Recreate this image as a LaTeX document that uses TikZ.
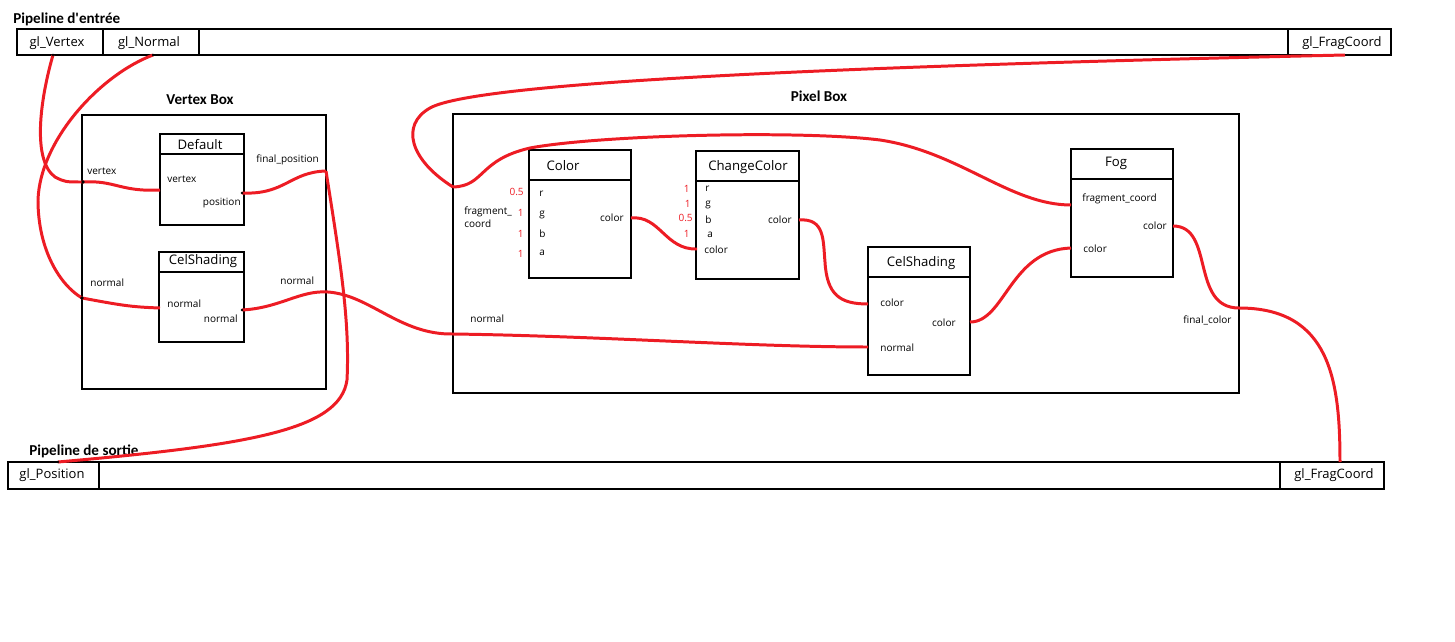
\documentclass[tikz,border=0pt]{standalone}
\usepackage{fontspec}
\setmainfont{Open Sans}
\newfontfamily\titlefont{Carlito}
\usetikzlibrary{fit}
\definecolor{wirered}{RGB}{237,28,36}
\begin{document}
\begin{tikzpicture}[x=0.02cm,y=-0.02cm,
  box/.style={draw, line width=0.6pt, inner sep=0pt},
  sep/.style={line width=0.6pt},
  wire/.style={draw=wirered, line width=1.7pt},
  lbl/.style={font=\fontsize{5.7}{7.4}\selectfont, inner sep=0pt},
  num/.style={lbl, text=wirered},
  ttl/.style={font=\fontsize{7.5}{8}\selectfont, inner sep=0pt},
  pipe/.style={font=\fontsize{7.4}{8}\selectfont, inner sep=0pt},
  head/.style={font=\titlefont\bfseries\fontsize{8.6}{9}\selectfont, inner sep=0pt},
  dot/.style={circle, fill=black, inner sep=0pt, minimum size=2.2pt}]
\useasboundingbox (0,0) rectangle (1455,642);

% ---------- input pipeline ----------
\node[head, anchor=west] (inTitle) at (13,19) {Pipeline d'entrée};
\node[box, fit={(17,29) (1391,55)}] (inpipe) {};
\draw[sep] (103,29) -- (103,55) (199,29) -- (199,55) (1288,29) -- (1288,55);
\node[pipe] (tVertex) at (57,43) {gl\_Vertex};
\node[pipe] (tNormal) at (149,43) {gl\_Normal};
\node[pipe] (tFragIn) at (1342,43) {gl\_FragCoord};

% ---------- output pipeline ----------
\node[head, anchor=west] (outTitle) at (29,451) {Pipeline de sortie};
\node[box, fit={(8,462) (1384,489)}] (outpipe) {};
\draw[sep] (99,462) -- (99,489) (1280,462) -- (1280,489);
\node[pipe] (tPos) at (52,475) {gl\_Position};
\node[pipe] (tFragOut) at (1334,475) {gl\_FragCoord};

% ---------- Vertex Box ----------
\node[head] (vbTitle) at (200,100) {Vertex Box};
\node[box, fit={(82,115) (326,389)}] (vbox) {};
\node[lbl, anchor=west] (lVertex) at (87,171) {vertex};
\node[lbl, anchor=west] (lFinalPos) at (256,160) {final\_position};
\node[lbl, anchor=west] (lNormalL) at (90,283) {normal};
\node[lbl, anchor=west] (lNormalR) at (280,281) {normal};

\node[box, fit={(160,134) (244,225)}] (def) {};
\draw[sep] (160,154) -- (244,154);
\node[ttl] (defTitle) at (200,145) {Default};
\node[lbl, anchor=west] (defVertex) at (167,179) {vertex};
\node[lbl, anchor=east] (defPos) at (241,203) {position};

\node[box, fit={(159,252) (244,342)}] (vcs) {};
\draw[sep] (159,272) -- (244,272);
\node[ttl] (vcsTitle) at (203,261) {CelShading};
\node[lbl, anchor=west] (vcsNormIn) at (167,304) {normal};
\node[lbl, anchor=east] (vcsNormOut) at (238,319) {normal};

% ---------- Pixel Box ----------
\node[head] (pbTitle) at (819,96) {Pixel Box};
\node[box, fit={(453,114) (1239,393)}] (pbox) {};
\node[lbl, anchor=west, align=left] (lFrag) at (464,217) {fragment\_\\coord};
\node[lbl, anchor=west] (lNormalP) at (470,319) {normal};
\node[lbl, anchor=west] (lFinalCol) at (1183,320) {final\_color};

\node[box, fit={(529,150) (631,278)}] (col) {};
\draw[sep] (529,180) -- (631,180);
\node[ttl] (colTitle) at (563,166) {Color};
\node[lbl, anchor=west] (colR) at (539,194) {r};
\node[lbl, anchor=west] (colG) at (539,215) {g};
\node[lbl, anchor=west] (colB) at (539,234) {b};
\node[lbl, anchor=west] (colA) at (539,253) {a};
\node[num, anchor=east] (colRv) at (524,192) {0.5};
\node[num, anchor=east] (colGv) at (524,213) {1};
\node[num, anchor=east] (colBv) at (524,234) {1};
\node[num, anchor=east] (colAv) at (524,254) {1};
\node[lbl, anchor=east] (colOutL) at (624,218) {color};

\node[box, fit={(696,151) (799,279)}] (cc) {};
\draw[sep] (696,181) -- (799,181);
\node[ttl] (ccTitle) at (748,167) {ChangeColor};
\node[lbl, anchor=west] (ccR) at (705,189) {r};
\node[lbl, anchor=west] (ccG) at (705,205) {g};
\node[lbl, anchor=west] (ccB) at (705,220) {b};
\node[lbl, anchor=west] (ccA) at (707,235) {a};
\node[lbl, anchor=west] (ccC) at (704,250) {color};
\node[num, anchor=east] (ccRv) at (690,189) {1};
\node[num, anchor=east] (ccGv) at (691,204) {1};
\node[num, anchor=east] (ccBv) at (693,218) {0.5};
\node[num, anchor=east] (ccAv) at (690,234) {1};
\node[lbl, anchor=east] (ccOutL) at (792,220) {color};

\node[box, fit={(868,247) (970,375)}] (pcs) {};
\draw[sep] (868,277) -- (970,277);
\node[ttl] (pcsTitle) at (921,263) {CelShading};
\node[lbl, anchor=west] (pcsColIn) at (880,303) {color};
\node[lbl, anchor=east] (pcsColOut) at (956,323) {color};
\node[lbl, anchor=west] (pcsNormIn) at (880,348) {normal};

\node[box, fit={(1071,149) (1173,277)}] (fog) {};
\draw[sep] (1071,179) -- (1173,179);
\node[ttl] (fogTitle) at (1116,163) {Fog};
\node[lbl, anchor=west] (fogFragL) at (1082,199) {fragment\_coord};
\node[lbl, anchor=east] (fogOutL) at (1167,226) {color};
\node[lbl, anchor=west] (fogInL) at (1083,249) {color};

% ---------- ports ----------
\coordinate (inVertex) at (53,55);
\coordinate (inNormal) at (153,55);
\coordinate (inFrag) at (1345,55);
\coordinate (vbVertex) at (83,182);
\coordinate (vbNormal) at (82,298);
\coordinate (defIn) at (160,190);
\coordinate (defOut) at (242,193);
\coordinate (vbPos) at (326,171);
\coordinate (vcsIn) at (160,308);
\coordinate (vcsOut) at (242,310);
\coordinate (vbNormOut) at (328,292);
\coordinate (pbFrag) at (453,187);
\coordinate (pbNormal) at (453,334);
\coordinate (colOut) at (631,218);
\coordinate (ccIn) at (697,249);
\coordinate (ccOut) at (799,220);
\coordinate (pcsIn) at (868,304);
\coordinate (pcsNorm) at (868,347);
\coordinate (pcsOut) at (970,322);
\coordinate (fogFrag) at (1071,205);
\coordinate (fogIn) at (1071,248);
\coordinate (fogOut) at (1173,226);
\coordinate (pbOut) at (1239,308);
\coordinate (outPos) at (58,462);
\coordinate (outFrag) at (1340,462);

% ---------- wires ----------
\draw[wire] (inVertex) .. controls (40,100) and (32,160) .. (55,177) .. controls (65,182) .. (vbVertex);
\draw[wire] (vbVertex) .. controls (115,180) and (120,192) .. (defIn);
\draw[wire] (inNormal) .. controls (100,75) and (40,140) .. (38,200) .. controls (38,250) and (60,285) .. (vbNormal);
\draw[wire] (vbNormal) .. controls (120,305) and (130,307) .. (vcsIn);
\draw[wire] (defOut) .. controls (285,195) and (290,172) .. (vbPos);
\draw[wire] (vbPos) .. controls (340,260) and (350,320) .. (347,380) .. controls (340,430) and (250,445) .. (outPos);
\draw[wire] (vcsOut) .. controls (280,308) and (300,290) .. (vbNormOut) .. controls (370,295) and (400,335) .. (pbNormal);
\draw[wire] (pbNormal) .. controls (600,336) and (750,347) .. (pcsNorm);
\draw[wire] (inFrag) .. controls (900,65) and (480,80) .. (430,108) .. controls (400,125) and (410,160) .. (pbFrag);
\draw[wire] (pbFrag) .. controls (485,186) and (478,160) .. (530,148) .. controls (600,135) and (800,130) .. (880,140) .. controls (960,152) and (1010,205) .. (fogFrag);
\draw[wire] (colOut) .. controls (660,215) and (665,250) .. (ccIn);
\draw[wire] (ccOut) .. controls (825,218) and (823,240) .. (825,262) .. controls (827,295) and (840,304) .. (pcsIn);
\draw[wire] (pcsOut) .. controls (1005,322) and (1010,250) .. (fogIn);
\draw[wire] (fogOut) .. controls (1215,226) and (1190,308) .. (pbOut);
\draw[wire] (pbOut) .. controls (1330,308) and (1340,380) .. (outFrag);

% ---------- joint dots ----------
\node[dot] (dVertex) at (vbVertex) {};
\node[dot] (dNormal) at (vbNormal) {};
\node[dot, minimum size=1.6pt] (dInV) at (inVertex) {};
\node[dot, minimum size=1.6pt] (dInN) at (inNormal) {};
\node[dot, minimum size=1.6pt] (dDefOut) at (defOut) {};
\node[dot, minimum size=1.6pt] (dVcsOut) at (vcsOut) {};
\node[dot, minimum size=1.6pt] (dOutPos) at (outPos) {};
\end{tikzpicture}
\end{document}
